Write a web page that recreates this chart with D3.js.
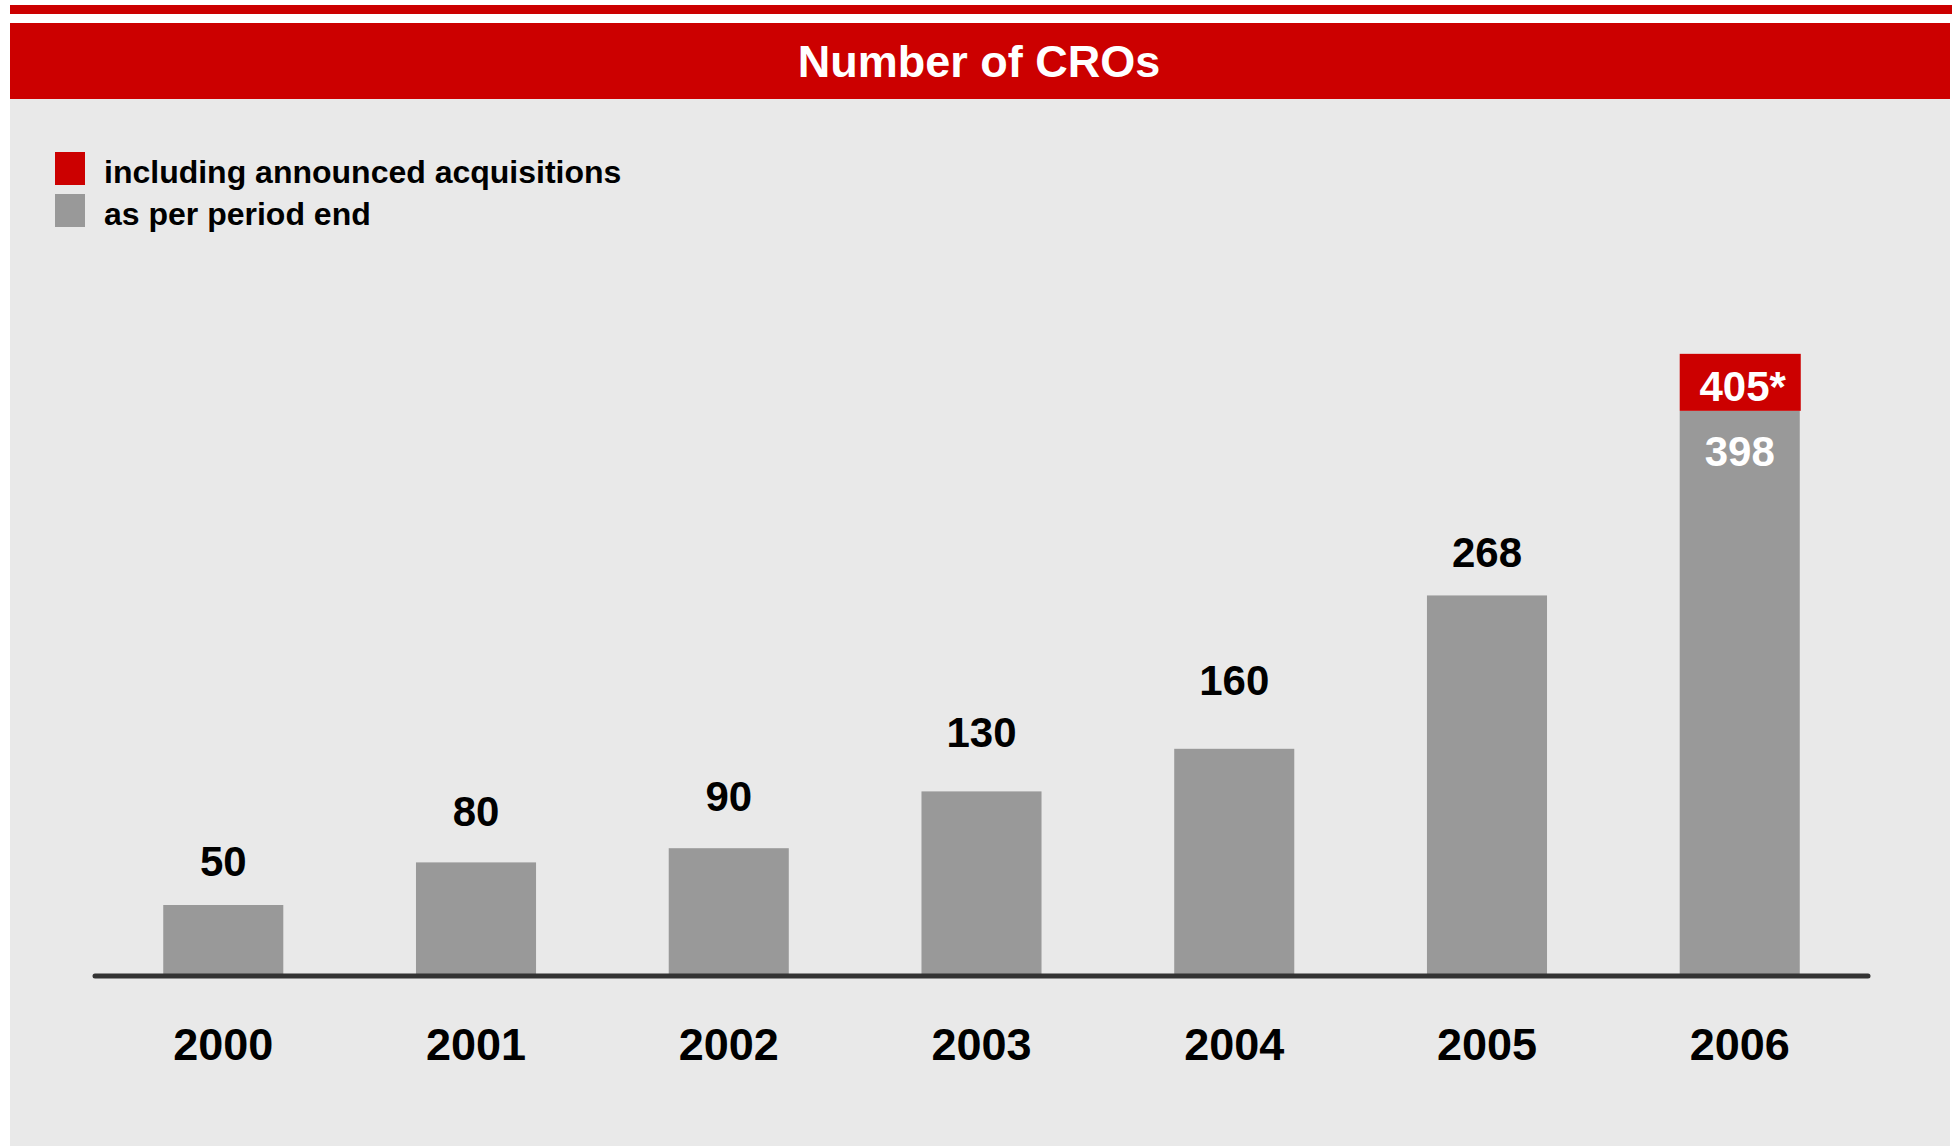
<!DOCTYPE html>
<html>
<head>
<meta charset="utf-8">
<script src="https://cdn.jsdelivr.net/npm/d3@7"></script>
<style>
  html, body { margin: 0; padding: 0; background: #ffffff; }
  svg { display: block; }
  text { font-family: "Liberation Sans", Arial, sans-serif; font-weight: bold; }
</style>
</head>
<body>
<script>
// ---- data ----
const title = "Number of CROs";
const years = ["2000", "2001", "2002", "2003", "2004", "2005", "2006"];
const periodEnd = [50, 80, 90, 130, 160, 268, 398];
const withAcquisitions = [null, null, null, null, null, null, 405];
const acquisitionsLabelSuffix = "*";
const legendLabels = ["including announced acquisitions", "as per period end"];
const legendColors = ["#cc0000", "#999999"];

// ---- layout (not data) ----
const W = 1952, H = 1146;
const RED = "#cc0000", GREY = "#999999", BG = "#e9e9e9";
// gap between each bar top and its value label baseline, as placed in the original
const labelGap = [29, 36, 37, 44, 54, 28, 0];

const svg = d3.select("body").append("svg").attr("width", W).attr("height", H);

// background panels
const L = 10;
svg.append("rect").attr("x", L).attr("y", 5).attr("width", W - L).attr("height", 9).attr("fill", RED);
svg.append("rect").attr("x", L).attr("y", 23).attr("width", 1950 - L).attr("height", 76).attr("fill", RED);
svg.append("rect").attr("x", L).attr("y", 99).attr("width", 1950 - L).attr("height", H - 99).attr("fill", BG);

svg.append("text").attr("x", 979).attr("y", 77).attr("text-anchor", "middle")
  .attr("fill", "#ffffff").attr("font-size", 45).text(title);

// legend
const legend = svg.append("g");
legendLabels.forEach((lab, i) => {
  const y0 = 152 + i * 42;
  legend.append("rect").attr("x", 55).attr("y", y0).attr("width", 30).attr("height", 33).attr("fill", legendColors[i]);
  legend.append("text").attr("x", 104).attr("y", y0 + 31).attr("font-size", 32).attr("fill", "#000").text(lab);
});

// scales
const x = d3.scaleBand().domain(years).range([95, 1868]).paddingInner(0.525).paddingOuter(0.27);
const y = d3.scaleLinear().domain([0, 400]).range([976, 408]);

const data = years.map((yr, i) => ({ yr, v: periodEnd[i], acq: withAcquisitions[i], gap: labelGap[i] }));

// bars
svg.append("g").selectAll("rect").data(data).join("rect")
  .attr("x", d => x(d.yr)).attr("width", x.bandwidth())
  .attr("y", d => y(d.v)).attr("height", d => y(0) - y(d.v))
  .attr("fill", GREY);

// acquisition boxes (label box enlarged to fit text)
const acqData = data.filter(d => d.acq != null);
const boxH = 57;
svg.append("g").selectAll("rect").data(acqData).join("rect")
  .attr("x", d => x(d.yr)).attr("width", x.bandwidth() + 1)
  .attr("y", d => Math.min(y(d.acq), y(d.v) - boxH))
  .attr("height", d => y(d.v) - Math.min(y(d.acq), y(d.v) - boxH))
  .attr("fill", RED);
svg.append("g").selectAll("text").data(acqData).join("text")
  .attr("x", d => x(d.yr) + x.bandwidth() / 2 + 3)
  .attr("y", d => y(d.v) - 10)
  .attr("text-anchor", "middle").attr("font-size", 42).attr("fill", "#fff")
  .text(d => d.acq + acquisitionsLabelSuffix);

// value labels
svg.append("g").selectAll("text").data(data).join("text")
  .attr("x", d => x(d.yr) + x.bandwidth() / 2)
  .attr("y", d => d.acq != null ? y(d.v) + 55 : y(d.v) - d.gap)
  .attr("text-anchor", "middle").attr("font-size", 42)
  .attr("fill", d => d.acq != null ? "#fff" : "#000")
  .text(d => d.v);

// axis
const axis = d3.axisBottom(x).tickSize(0).tickPadding(0);
const gAxis = svg.append("g").attr("transform", `translate(0,${y(0)})`).call(axis);
gAxis.select(".domain").attr("stroke", "#333333").attr("stroke-width", 5)
  .attr("stroke-linecap", "round").attr("d", `M${x.range()[0]},0H${x.range()[1]}`);
gAxis.selectAll(".tick text")
  .attr("font-family", "'Liberation Sans', Arial, sans-serif").attr("font-weight", "bold")
  .attr("font-size", 45).attr("fill", "#000").attr("dy", null).attr("y", 84).attr("dx", 0);
</script>
</body>
</html>
